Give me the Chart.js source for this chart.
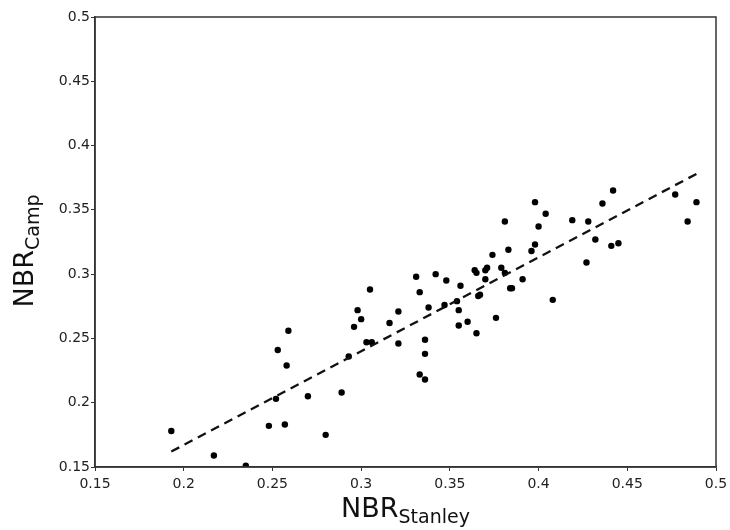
<!DOCTYPE html>
<html>
<head>
<meta charset="utf-8">
<script src="https://cdn.jsdelivr.net/npm/chart.js@4.4.1/dist/chart.umd.min.js"></script>
<style>
  html, body { margin: 0; padding: 0; background: #fff; }
  #wrap { width: 730px; height: 530px; position: relative; }
</style>
</head>
<body>
<div id="wrap"><canvas id="nbrChart"></canvas></div>
<script>
// NBR Stanley (x) vs NBR Camp (y)
const nbrStanley = [
  0.193, 0.217, 0.235, 0.248, 0.257, 0.252, 0.270, 0.289, 0.280, 0.253,
  0.258, 0.259, 0.293, 0.296, 0.298, 0.300, 0.305, 0.303, 0.306, 0.316,
  0.321, 0.321, 0.331, 0.333, 0.336, 0.336, 0.333, 0.336, 0.342, 0.338,
  0.348, 0.347, 0.356, 0.354, 0.355, 0.355, 0.360, 0.365, 0.364, 0.365,
  0.367, 0.366, 0.370, 0.371, 0.370, 0.374, 0.379, 0.381, 0.376, 0.381,
  0.383, 0.391, 0.384, 0.385, 0.396, 0.398, 0.400, 0.398, 0.404, 0.408,
  0.419, 0.428, 0.432, 0.427, 0.436, 0.442, 0.441, 0.445, 0.477, 0.489,
  0.484
];
const nbrCamp = [
  0.178, 0.159, 0.151, 0.182, 0.183, 0.203, 0.205, 0.208, 0.175, 0.241,
  0.229, 0.256, 0.236, 0.259, 0.272, 0.265, 0.288, 0.247, 0.247, 0.262,
  0.271, 0.246, 0.298, 0.286, 0.249, 0.238, 0.222, 0.218, 0.300, 0.274,
  0.295, 0.276, 0.291, 0.279, 0.272, 0.260, 0.263, 0.254, 0.303, 0.301,
  0.284, 0.283, 0.303, 0.305, 0.296, 0.315, 0.305, 0.301, 0.266, 0.341,
  0.319, 0.296, 0.289, 0.289, 0.318, 0.323, 0.337, 0.356, 0.347, 0.280,
  0.342, 0.341, 0.327, 0.309, 0.355, 0.365, 0.322, 0.324, 0.362, 0.356,
  0.341
];
// estremi della retta di regressione (tratteggiata)
const fitX = [0.193, 0.489];
const fitY = [0.162, 0.378];

const FONT = "'DejaVu Sans', Verdana, sans-serif";
const INK = "#222";

// bordo superiore/destro + titoli con pedice
const framePlugin = {
  id: "frame",
  afterDraw(chart) {
    const { ctx, chartArea: a } = chart;
    ctx.save();
    ctx.strokeStyle = "#333";
    ctx.lineWidth = 1.5;
    ctx.strokeRect(a.left, a.top, a.right - a.left, a.bottom - a.top);

    ctx.fillStyle = "#111";
    ctx.textBaseline = "alphabetic";
    // titolo asse X: NBR_Stanley
    ctx.font = "27px " + FONT;
    const wMain = ctx.measureText("NBR").width;
    ctx.font = "19px " + FONT;
    const wSubX = ctx.measureText("Stanley").width;
    let x0 = (a.left + a.right) / 2 - (wMain + wSubX) / 2;
    ctx.font = "27px " + FONT;
    ctx.fillText("NBR", x0, 517);
    ctx.font = "19px " + FONT;
    ctx.fillText("Stanley", x0 + wMain, 523);

    // titolo asse Y: NBR_Camp (ruotato)
    ctx.font = "19px " + FONT;
    const wSubY = ctx.measureText("Camp").width;
    ctx.translate(33, 251);
    ctx.rotate(-Math.PI / 2);
    const y0 = -(wMain + wSubY) / 2;
    ctx.font = "27px " + FONT;
    ctx.fillText("NBR", y0, 0);
    ctx.font = "19px " + FONT;
    ctx.fillText("Camp", y0 + wMain, 6);
    ctx.restore();
  }
};

const fmt = (v) => String(parseFloat(v.toFixed(2)));

function axis(pad) {
  return {
    type: "linear",
    min: 0.15,
    max: 0.5,
    ticks: {
      stepSize: 0.05,
      color: INK,
      font: { family: FONT, size: 14 },
      padding: pad,
      autoSkip: false,
      maxRotation: 0,
      callback: (v) => fmt(v)
    },
    grid: { drawOnChartArea: false, drawTicks: true, tickLength: 4, color: "#333", lineWidth: 1 },
    border: { display: true, color: "#333", width: 1.5 }
  };
}

new Chart(document.getElementById("nbrChart"), {
  type: "scatter",
  data: {
    datasets: [
      {
        type: "line",
        data: fitX.map((x, i) => ({ x, y: fitY[i] })),
        borderColor: "#111",
        borderWidth: 2.3,
        borderDash: [9, 6],
        pointRadius: 0,
        fill: false
      },
      {
        data: nbrStanley.map((x, i) => ({ x, y: nbrCamp[i] })),
        backgroundColor: "#000",
        borderWidth: 0,
        pointRadius: 3.2
      }
    ]
  },
  options: {
    responsive: true,
    maintainAspectRatio: false,
    animation: false,
    layout: { padding: { top: 17, right: 14, left: 0, bottom: 0 } },
    plugins: { legend: { display: false }, tooltip: { enabled: false } },
    scales: {
      x: Object.assign(axis(5), {
        afterFit: (s) => { s.height = 63; s.paddingLeft = 0; s.paddingRight = 0; }
      }),
      y: Object.assign(axis(1), {
        afterFit: (s) => { s.width = 95; s.paddingTop = 0; s.paddingBottom = 0; }
      })
    }
  },
  plugins: [framePlugin]
});
</script>
</body>
</html>
